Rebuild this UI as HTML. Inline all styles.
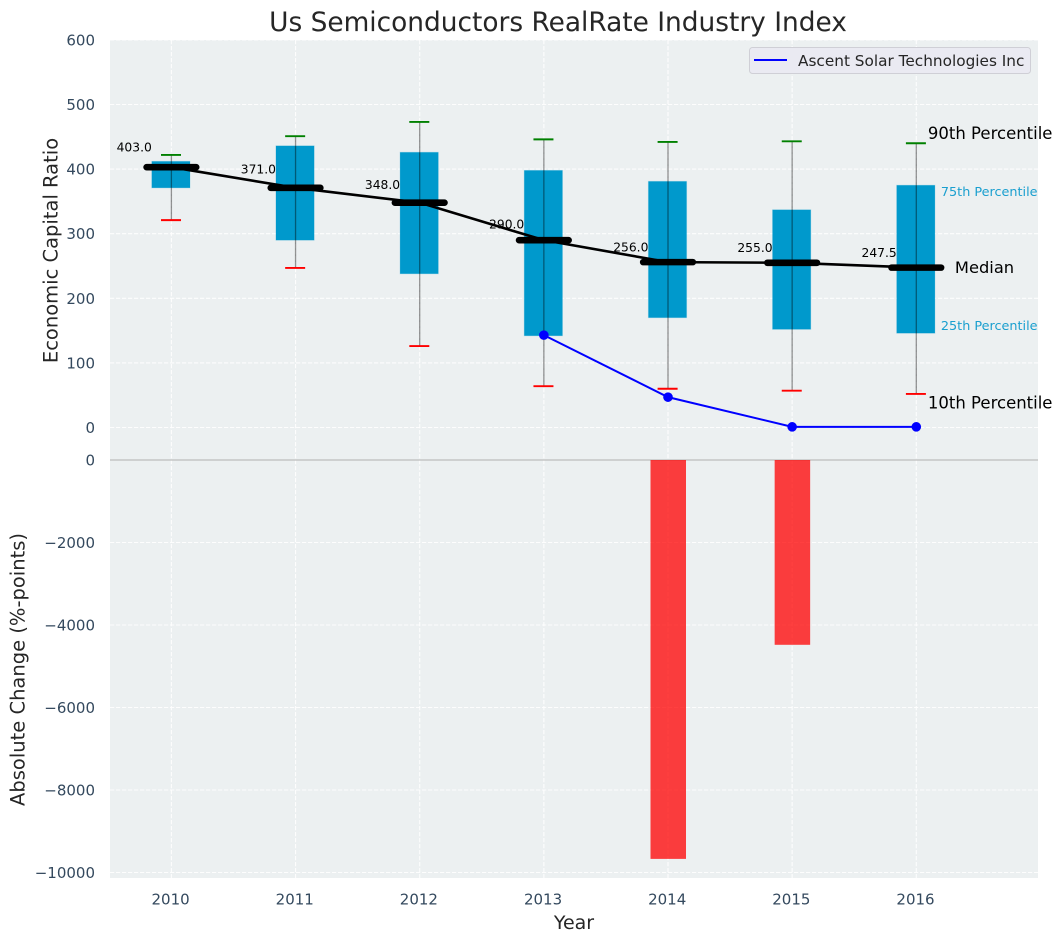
<!DOCTYPE html>
<html lang="en">
<head>
<meta charset="utf-8">
<title>Us Semiconductors RealRate Industry Index</title>
<style>
html,body{margin:0;padding:0;background:#fff;}
svg{display:block;font-family:"DejaVu Sans","Liberation Sans",sans-serif;}
</style>
</head>
<body>
<svg id="chart" xmlns="http://www.w3.org/2000/svg" width="1063" height="942" viewBox="0 0 1063 942">
  <text x="558" y="31" font-size="26.4" fill="#262626" text-anchor="middle">Us Semiconductors RealRate Industry Index</text>
  <rect x="110" y="40" width="928" height="420" fill="#ecf0f1"/>
  <rect x="110" y="460" width="928" height="418" fill="#ecf0f1"/>
  <g id="grid"></g>
  <g id="bars"></g>
  <g id="boxes"></g>
  <g id="series"></g>
  <g id="labels"></g>
  <g id="ticks"></g>
  <text transform="translate(51 250.5) rotate(-90)" font-size="19.5" fill="#262626" text-anchor="middle" dominant-baseline="central">Economic Capital Ratio</text>
  <text transform="translate(18 669.5) rotate(-90)" font-size="19.5" fill="#262626" text-anchor="middle" dominant-baseline="central">Absolute Change (%-points)</text>
  <text x="574" y="929" font-size="19" fill="#262626" text-anchor="middle">Year</text>
  <g>
    <rect x="749.5" y="47.5" width="281" height="26" rx="3" fill="#eaeaf2" stroke="#cfcfd6" stroke-width="1"/>
    <line x1="754" y1="60" x2="787" y2="60" stroke="#0000ff" stroke-width="2"/>
    <text x="798" y="66" font-size="15.3" fill="#262626">Ascent Solar Technologies Inc</text>
  </g>
  <g id="annotations"></g>
</svg>
<script>
const years = [2010, 2011, 2012, 2013, 2014, 2015, 2016];
const p90 = [422, 451, 473, 446, 442, 443, 440];
const q3 = [412, 436, 426, 398, 381, 337, 375];
const medians = [403, 371, 348, 290, 256, 255, 247.5];
const q1 = [371, 290, 238, 142, 170, 152, 146];
const p10 = [321, 247, 126, 64, 60, 57, 52];
const ascentYears = [2013, 2014, 2015, 2016];
const ascentValues = [143, 47, 1, 1];
const changeYears = [2014, 2015];
const changeValues = [-9670, -4480];
const topTicks = [0, 100, 200, 300, 400, 500, 600];
const bottomTicks = [0, -2000, -4000, -6000, -8000, -10000];

const NS = 'http://www.w3.org/2000/svg';
const xScale = v => 171.4 + (v - 2010) * 124.15;
const topY = v => 427.5 - v * 0.646;
const bottomY = v => 460 + v * -0.04125;
const $ = id => document.getElementById(id);

function mk(tag, parent, attrs, content) {
  const el = document.createElementNS(NS, tag);
  for (const k in attrs) el.setAttribute(k, attrs[k]);
  if (content !== undefined) el.textContent = content;
  parent.appendChild(el);
  return el;
}
const gridStyle = {stroke: '#ffffff', 'stroke-width': 1.1, 'stroke-dasharray': '4.2 1.8', opacity: 0.9};

years.forEach(y => {
  const el = mk('line', $('grid'), Object.assign({x1: xScale(y), x2: xScale(y), y1: 40, y2: 878}, gridStyle));
  
  
  const t = mk('text', $('ticks'), {x: xScale(y) - 0.8, y: 904.5, 'font-size': 15, fill: '#34495e', 'text-anchor': 'middle'}, String(y));
  
  
});
topTicks.forEach(v => {
  const el = mk('line', $('grid'), Object.assign({x1: 110, x2: 1038, y1: topY(v), y2: topY(v)}, gridStyle));
  
  
  const t = mk('text', $('ticks'), {x: 95, y: topY(v) + 5.5, 'font-size': 15, fill: '#34495e', 'text-anchor': 'end'}, String(v));
  
  
});
bottomTicks.forEach(v => {
  const el = mk('line', $('grid'), v === 0
    ? {x1: 110, x2: 1038, y1: bottomY(v), y2: bottomY(v), stroke: '#bdbdbd', 'stroke-width': 1.3}
    : Object.assign({x1: 110, x2: 1038, y1: bottomY(v), y2: bottomY(v)}, gridStyle));
  
  
  const label = v < 0 ? '\u2212' + Math.abs(v) : String(v);
  const t = mk('text', $('ticks'), {x: 95, y: bottomY(v) + 5.5, 'font-size': 15, fill: '#34495e', 'text-anchor': 'end'}, label);
  
  
});

changeValues.forEach((v, i) => {
  const cx = xScale(changeYears[i]);
  const el = mk('rect', $('bars'), {x: cx - 17.5, y: bottomY(0), width: 35.5, height: bottomY(v) - bottomY(0), fill: '#ff0000', 'fill-opacity': 0.75});
  
  
});

years.forEach((y, i) => {
  const cx = xScale(y);
  const box = mk('rect', $('boxes'), {x: cx - 19.6, y: topY(q3[i]), width: 38.2, height: topY(q1[i]) - topY(q3[i]), fill: '#0099cc', stroke: '#0099cc', 'stroke-opacity': 0.2, 'stroke-width': 1});
  
  
  const whisker = mk('line', $('boxes'), {x1: cx, x2: cx, y1: topY(p90[i]), y2: topY(p10[i]), stroke: '#000000', 'stroke-opacity': 0.42, 'stroke-width': 1.3});
  
  
  const hi = mk('line', $('boxes'), {x1: cx - 10.4, x2: cx + 9.6, y1: topY(p90[i]), y2: topY(p90[i]), stroke: '#008000', 'stroke-width': 1.9});
  
  
  const lo = mk('line', $('boxes'), {x1: cx - 10.4, x2: cx + 9.6, y1: topY(p10[i]), y2: topY(p10[i]), stroke: '#ff0000', 'stroke-width': 1.9});
  
  
});

const medianLine = mk('polyline', $('series'), {points: years.map((y, i) => xScale(y) + ',' + topY(medians[i])).join(' '), fill: 'none', stroke: '#000000', 'stroke-width': 2.6});


years.forEach((y, i) => {
  const cx = xScale(y);
  const seg = mk('line', $('series'), {x1: cx - 24.8, x2: cx + 24.8, y1: topY(medians[i]), y2: topY(medians[i]), stroke: '#000000', 'stroke-width': 6.6, 'stroke-linecap': 'round'});
  
  
  const t = mk('text', $('labels'), {x: cx - 54.8, y: topY(medians[i] * 1.05) - 2.5, 'font-size': 12.3, fill: '#000000'}, medians[i].toFixed(1));
  
  
});

const ascentLine = mk('polyline', $('series'), {points: ascentYears.map((y, i) => xScale(y) + ',' + topY(ascentValues[i])).join(' '), fill: 'none', stroke: '#0000ff', 'stroke-width': 2});


ascentYears.forEach((y, i) => {
  const dot = mk('circle', $('series'), {cx: xScale(y), cy: topY(ascentValues[i]), r: 4.8, fill: '#0000ff'});
  
  
});

const last = years.length - 1;
const lastX = xScale(years[last]);
const a90 = mk('text', $('annotations'), {x: lastX + 11.6, y: topY(p90[last]) - 4.5, 'font-size': 16.5, fill: '#000000'}, '90th Percentile');


const a75 = mk('text', $('annotations'), {x: lastX + 24.6, y: topY(q3[last]) + 10.5, 'font-size': 12.8, fill: '#1a9fcf'}, '75th Percentile');


const aMed = mk('text', $('annotations'), {x: lastX + 38.6, y: topY(medians[last]) + 5.5, 'font-size': 16.3, fill: '#000000'}, 'Median');


const a25 = mk('text', $('annotations'), {x: lastX + 24.6, y: topY(q1[last]) - 3, 'font-size': 12.8, fill: '#1a9fcf'}, '25th Percentile');


const a10 = mk('text', $('annotations'), {x: lastX + 11.6, y: topY(p10[last]) + 14.5, 'font-size': 16.5, fill: '#000000'}, '10th Percentile');


</script>
</body>
</html>
